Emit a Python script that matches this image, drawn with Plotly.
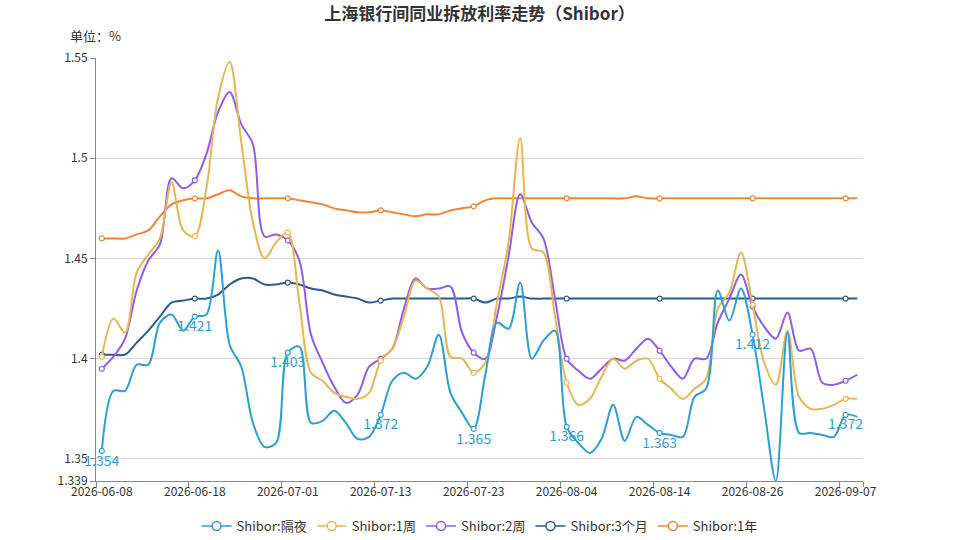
import plotly.graph_objects as go

dates = [
    "2026-06-08", "2026-06-09", "2026-06-10", "2026-06-11", "2026-06-12",
    "2026-06-15", "2026-06-16", "2026-06-17", "2026-06-18", "2026-06-22",
    "2026-06-23", "2026-06-24", "2026-06-25", "2026-06-26", "2026-06-29",
    "2026-06-30", "2026-07-01", "2026-07-02", "2026-07-03", "2026-07-06",
    "2026-07-07", "2026-07-08", "2026-07-09", "2026-07-10", "2026-07-13",
    "2026-07-14", "2026-07-15", "2026-07-16", "2026-07-17", "2026-07-20",
    "2026-07-21", "2026-07-22", "2026-07-23", "2026-07-24", "2026-07-27",
    "2026-07-28", "2026-07-29", "2026-07-30", "2026-07-31", "2026-08-03",
    "2026-08-04", "2026-08-05", "2026-08-06", "2026-08-07", "2026-08-10",
    "2026-08-11", "2026-08-12", "2026-08-13", "2026-08-14", "2026-08-17",
    "2026-08-18", "2026-08-19", "2026-08-20", "2026-08-21", "2026-08-24",
    "2026-08-25", "2026-08-26", "2026-08-27", "2026-08-28", "2026-08-31",
    "2026-09-01", "2026-09-02", "2026-09-03", "2026-09-04", "2026-09-07",
    "2026-09-08",
]

overnight = [
    1.354, 1.384, 1.384, 1.397, 1.397, 1.418, 1.422, 1.414, 1.421, 1.422,
    1.454, 1.407, 1.396, 1.368, 1.356, 1.358, 1.403, 1.406, 1.368, 1.369,
    1.374, 1.368, 1.360, 1.361, 1.372, 1.389, 1.393, 1.390, 1.396, 1.412,
    1.383, 1.373, 1.365, 1.392, 1.418, 1.415, 1.438, 1.400, 1.409, 1.414,
    1.366, 1.358, 1.353, 1.360, 1.377, 1.359, 1.371, 1.367, 1.363, 1.362,
    1.361, 1.381, 1.385, 1.434, 1.419, 1.435, 1.412, 1.375, 1.339, 1.413,
    1.363, 1.363, 1.362, 1.361, 1.372, 1.371,
]

week1 = [
    1.401, 1.420, 1.413, 1.443, 1.452, 1.460, 1.488, 1.464, 1.461, 1.485,
    1.530, 1.548, 1.508, 1.468, 1.450, 1.458, 1.463, 1.428, 1.393, 1.389,
    1.383, 1.381, 1.380, 1.383, 1.399, 1.405, 1.421, 1.439, 1.435, 1.431,
    1.401, 1.400, 1.393, 1.398, 1.428, 1.458, 1.510, 1.455, 1.453, 1.421,
    1.388, 1.377, 1.380, 1.391, 1.400, 1.395, 1.399, 1.400, 1.390, 1.385,
    1.380, 1.385, 1.390, 1.425, 1.433, 1.453, 1.427, 1.398, 1.387, 1.414,
    1.381, 1.375, 1.375, 1.377, 1.380, 1.380,
]

week2 = [
    1.395, 1.401, 1.410, 1.434, 1.449, 1.457, 1.490, 1.485, 1.489, 1.502,
    1.523, 1.533, 1.517, 1.507, 1.461, 1.462, 1.459, 1.449, 1.412, 1.398,
    1.386, 1.378, 1.382, 1.396, 1.400, 1.405, 1.425, 1.440, 1.435, 1.435,
    1.436, 1.413, 1.403, 1.400, 1.421, 1.451, 1.482, 1.468, 1.460, 1.430,
    1.400, 1.394, 1.390, 1.395, 1.400, 1.399, 1.405, 1.410, 1.404, 1.396,
    1.390, 1.400, 1.400, 1.418, 1.430, 1.442, 1.426, 1.416, 1.410, 1.423,
    1.404, 1.405, 1.388, 1.387, 1.389, 1.392,
]

month3 = [
    1.402, 1.402, 1.402, 1.408, 1.414, 1.421, 1.428, 1.429, 1.430, 1.430,
    1.432, 1.437, 1.440, 1.440, 1.437, 1.437, 1.438, 1.437, 1.435, 1.434,
    1.432, 1.431, 1.430, 1.428, 1.429, 1.430, 1.430, 1.430, 1.430, 1.430,
    1.430, 1.430, 1.430, 1.428, 1.430, 1.430, 1.431, 1.430, 1.430, 1.430,
    1.430, 1.430, 1.430, 1.430, 1.430, 1.430, 1.430, 1.430, 1.430, 1.430,
    1.430, 1.430, 1.430, 1.430, 1.430, 1.430, 1.430, 1.430, 1.430, 1.430,
    1.430, 1.430, 1.430, 1.430, 1.430, 1.430,
]

year1 = [
    1.460, 1.460, 1.460, 1.462, 1.464, 1.471, 1.477, 1.479, 1.480, 1.480,
    1.482, 1.484, 1.481, 1.480, 1.480, 1.480, 1.480, 1.479, 1.478, 1.477,
    1.475, 1.474, 1.473, 1.473, 1.474, 1.473, 1.472, 1.471, 1.472, 1.472,
    1.474, 1.475, 1.476, 1.479, 1.480, 1.480, 1.480, 1.480, 1.480, 1.480,
    1.480, 1.480, 1.480, 1.480, 1.480, 1.480, 1.481, 1.480, 1.480, 1.480,
    1.480, 1.480, 1.480, 1.480, 1.480, 1.480, 1.480, 1.480, 1.480, 1.480,
    1.480, 1.480, 1.480, 1.480, 1.480, 1.480,
]

series_names = ["Shibor:隔夜", "Shibor:1周", "Shibor:2周", "Shibor:3个月", "Shibor:1年"]
series_colors = ["#2b9fd3", "#e8b552", "#8d5de8", "#2b5b8c", "#f08432"]
y_ticks = [1.339, 1.35, 1.4, 1.45, 1.5, 1.55]
y_ticktext = ["1.339", "1.35", "1.4", "1.45", "1.5", "1.55"]

STEP = 8
FONT = "Microsoft YaHei, Noto Sans CJK SC, sans-serif"

W, H = 959, 540
ML, MT, MR, MB = 96, 58, 96, 59
PW = W - ML - MR
PH = H - MT - MB

x = list(range(len(dates)))
all_series = [overnight, week1, week2, month3, year1]

fig = go.Figure()

for k in [4, 3, 2, 1, 0]:
    vals = all_series[k]
    col = series_colors[k]
    fig.add_trace(go.Scatter(
        x=x, y=vals, mode="lines",
        line=dict(color=col, width=2, shape="spline", smoothing=0.9),
        showlegend=False, hoverinfo="skip",
    ))
    mx = x[::STEP]
    my = vals[::STEP]
    if k == 0:
        fig.add_trace(go.Scatter(
            x=mx, y=my, mode="markers+text",
            marker=dict(size=5, color="white", line=dict(color=col, width=1.2)),
            text=[f"{v:.3f}" for v in my], textposition="bottom center",
            textfont=dict(size=14, color=col, family=FONT),
            showlegend=False, hoverinfo="skip", cliponaxis=False,
        ))
    else:
        fig.add_trace(go.Scatter(
            x=mx, y=my, mode="markers",
            marker=dict(size=5, color="white", line=dict(color=col, width=1.2)),
            showlegend=False, hoverinfo="skip", cliponaxis=False,
        ))

for k in range(5):
    fig.add_trace(go.Scatter(
        x=[None], y=[None], mode="lines+markers", name=series_names[k],
        line=dict(color=series_colors[k], width=1.5),
        marker=dict(size=9, color="white", line=dict(color=series_colors[k], width=1.5)),
    ))

n = len(dates)
bounds = [i - 0.5 for i in range(0, n, STEP)] + [n - 0.5]

fig.update_layout(
    width=W, height=H,
    margin=dict(l=ML, r=MR, t=MT, b=MB, autoexpand=False),
    paper_bgcolor="white", plot_bgcolor="white",
    font=dict(family=FONT, size=12, color="#333"),
    title=dict(text="<b>上海银行间同业拆放利率走势（Shibor）</b>",
               x=0.5, xanchor="center", y=1 - 14 / H, yanchor="middle",
               font=dict(size=17, color="#333", family=FONT)),
    legend=dict(orientation="h", x=0.5, xanchor="center",
                y=-(526 - 481) / PH, yanchor="middle",
                font=dict(size=13, color="#333", family=FONT), itemwidth=30,
                tracegroupgap=0),
    annotations=[dict(text="单位：%", xref="paper", yref="paper",
                      x=(68 - 96) / PW, y=(481 - 35) / PH, xanchor="left", yanchor="middle",
                      showarrow=False, font=dict(size=13, color="#333", family=FONT))],
)

fig.update_xaxes(
    range=[-0.5, n - 0.5],
    tickmode="array", tickvals=x[::STEP], ticktext=dates[::STEP],
    ticks="", showgrid=False, zeroline=False,
    showline=True, linecolor="#888", linewidth=1,
    tickfont=dict(size=12, color="#333"),
    minor=dict(tickmode="array", tickvals=bounds, ticks="outside",
               ticklen=5, tickcolor="#888", showgrid=False),
)

fig.update_yaxes(
    range=[y_ticks[0], y_ticks[-1]],
    tickmode="array", tickvals=y_ticks, ticktext=y_ticktext,
    showgrid=True, gridcolor="#d9d9d9", gridwidth=1, zeroline=False,
    showline=True, linecolor="#888", linewidth=1,
    ticks="outside", ticklen=5, tickcolor="#888",
    tickfont=dict(size=12, color="#333"),
)

fig.write_html("out.html", config={"displayModeBar": False},
               post_script="document.body.style.margin='0px';")
